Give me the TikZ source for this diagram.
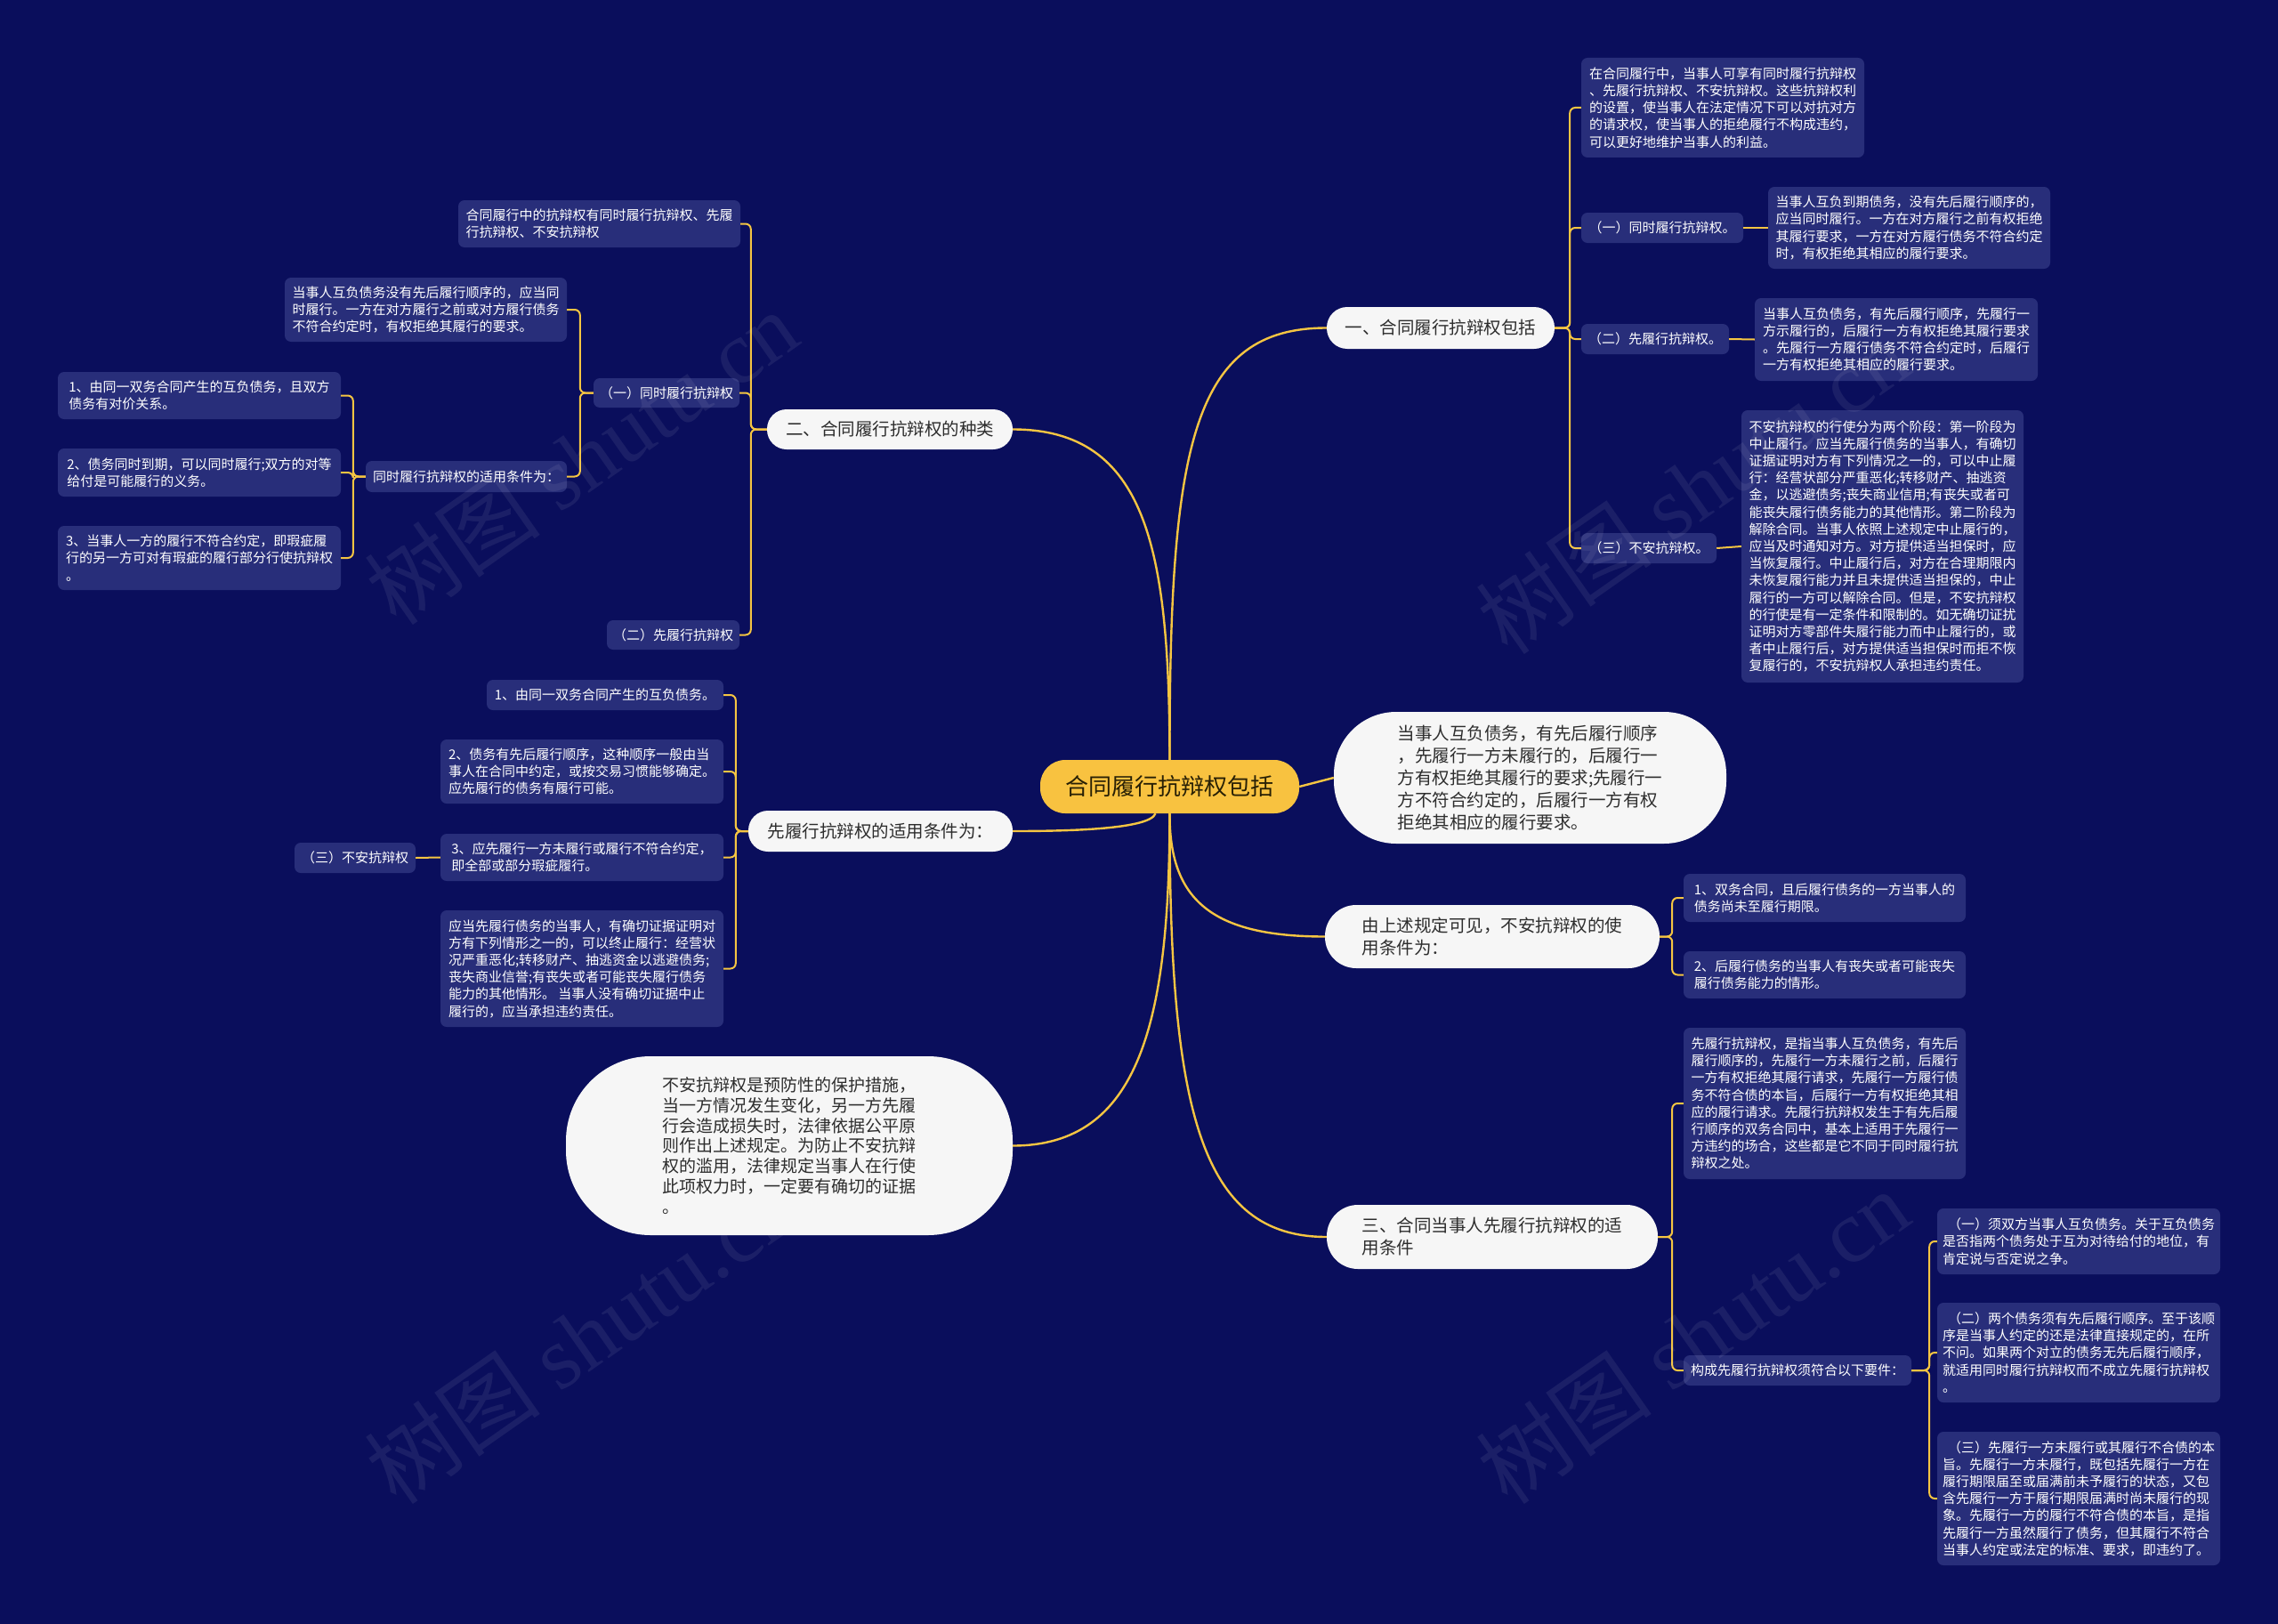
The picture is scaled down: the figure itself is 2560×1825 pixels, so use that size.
\documentclass[tikz,border=0pt]{standalone}
\usepackage{fontspec}
\setmainfont{Noto Sans CJK SC}
\newfontfamily\wmfont{Liberation Serif}
\definecolor{bg}{RGB}{10,14,92}
\definecolor{boxc}{RGB}{40,46,122}
\definecolor{gold}{RGB}{245,197,66}
\definecolor{pill}{RGB}{246,246,246}
\definecolor{pilltext}{RGB}{45,45,45}
\definecolor{ctr}{RGB}{248,194,64}
\definecolor{ctrtext}{RGB}{40,32,5}
\begin{document}
\begin{tikzpicture}[x=1pt,y=-1pt,
  box/.style={fill=boxc, rounded corners=7pt, text=white, font=\fontsize{15}{19.2}\selectfont, align=left, inner sep=0pt},
  lbl/.style={box, align=center},
  pillc/.style={fill=pill, text=pilltext, font=\fontsize{19.5}{25}\selectfont, align=left, inner sep=0pt},
  main/.style={draw=gold, line width=2.4pt},
  sub/.style={draw=gold, line width=2pt, rounded corners=6pt},
  wm/.style={rotate=35, opacity=0.07, text=white, font=\fontsize{100}{110}\selectfont}]
\fill[bg] (0,0) rectangle (2560,1825);
\useasboundingbox (0,0) rectangle (2560,1825);

% ---------- centre and first level ----------
\node[fill=ctr, text=ctrtext, rounded corners=28pt, font=\fontsize{26}{30}\selectfont, minimum width=291, minimum height=60, inner sep=0pt] (C) at (1314.5,884) {合同履行抗辩权包括};

\node[pillc, rounded corners=23pt, minimum width=256, minimum height=47] (R1) at (1619,368.5) {一、合同履行抗辩权包括};
\node[pillc, rounded corners=70pt, minimum width=441, minimum height=148] (RB) at (1719.5,874) {当事人互负债务，有先后履行顺序\\，先履行一方未履行的，后履行一\\方有权拒绝其履行的要求;先履行一\\方不符合约定的，后履行一方有权\\拒绝其相应的履行要求。};
\node[pillc, rounded corners=35pt, minimum width=376, minimum height=71] (R3) at (1677,1052.5) {由上述规定可见，不安抗辩权的使\\用条件为：};
\node[pillc, rounded corners=35pt, minimum width=372, minimum height=72] (R4) at (1677,1390) {三、合同当事人先履行抗辩权的适\\用条件};
\node[pillc, rounded corners=22pt, minimum width=276, minimum height=45] (L1) at (1000,482.5) {二、合同履行抗辩权的种类};
\node[pillc, rounded corners=22pt, minimum width=297, minimum height=46] (L2) at (989.5,934) {先履行抗辩权的适用条件为：};
\node[pillc, rounded corners=95pt, minimum width=502, minimum height=201, font=\fontsize{19}{22.7}\selectfont] (LB) at (887,1287.5) {不安抗辩权是预防性的保护措施，\\当一方情况发生变化，另一方先履\\行会造成损失时，法律依据公平原\\则作出上述规定。为防止不安抗辩\\权的滥用，法律规定当事人在行使\\此项权力时，一定要有确切的证据\\。};

% ---------- right branch 1 ----------
\node[box, minimum width=318, minimum height=112] (T1) at (1936,121) {在合同履行中，当事人可享有同时履行抗辩权\\、先履行抗辩权、不安抗辩权。这些抗辩权利\\的设置，使当事人在法定情况下可以对抗对方\\的请求权，使当事人的拒绝履行不构成违约，\\可以更好地维护当事人的利益。};
\node[lbl, minimum width=182, minimum height=34] (a1) at (1868,256) {（一）同时履行抗辩权。};
\node[box, minimum width=317, minimum height=92] (p1) at (2145.5,256) {当事人互负到期债务，没有先后履行顺序的，\\应当同时履行。一方在对方履行之前有权拒绝\\其履行要求，一方在对方履行债务不符合约定\\时，有权拒绝其相应的履行要求。};
\node[lbl, minimum width=166, minimum height=34] (a2) at (1860,381) {（二）先履行抗辩权。};
\node[box, minimum width=318, minimum height=93] (p2) at (2131,381.5) {当事人互负债务，有先后履行顺序，先履行一\\方示履行的，后履行一方有权拒绝其履行要求\\。先履行一方履行债务不符合约定时，后履行\\一方有权拒绝其相应的履行要求。};
\node[lbl, minimum width=152, minimum height=34] (a3) at (1853,616) {（三）不安抗辩权。};
\node[box, minimum width=317, minimum height=306] (p3) at (2115.5,614) {不安抗辩权的行使分为两个阶段：第一阶段为\\中止履行。应当先履行债务的当事人，有确切\\证据证明对方有下列情况之一的，可以中止履\\行：经营状部分严重恶化;转移财产、抽逃资\\金，以逃避债务;丧失商业信用;有丧失或者可\\能丧失履行债务能力的其他情形。第二阶段为\\解除合同。当事人依照上述规定中止履行的，\\应当及时通知对方。对方提供适当担保时，应\\当恢复履行。中止履行后，对方在合理期限内\\未恢复履行能力并且未提供适当担保的，中止\\履行的一方可以解除合同。但是，不安抗辩权\\的行使是有一定条件和限制的。如无确切证扰\\证明对方零部件失履行能力而中止履行的，或\\者中止履行后，对方提供适当担保时而拒不恢\\复履行的，不安抗辩权人承担违约责任。};

% ---------- left branch 1 ----------
\node[box, minimum width=317, minimum height=53] (A) at (673.5,251.5) {合同履行中的抗辩权有同时履行抗辩权、先履\\行抗辩权、不安抗辩权};
\node[lbl, minimum width=164, minimum height=33] (b1) at (749,441.5) {（一）同时履行抗辩权};
\node[lbl, minimum width=149, minimum height=33] (b2) at (756.5,713.5) {（二）先履行抗辩权};
\node[box, minimum width=317, minimum height=72] (B) at (478.5,348) {当事人互负债务没有先后履行顺序的，应当同\\时履行。一方在对方履行之前或对方履行债务\\不符合约定时，有权拒绝其履行的要求。};
\node[lbl, minimum width=226, minimum height=35] (cond) at (524,535.5) {同时履行抗辩权的适用条件为：};
\node[box, minimum width=318, minimum height=53] (c1) at (224,444.5) {1、由同一双务合同产生的互负债务，且双方\\债务有对价关系。};
\node[box, minimum width=318, minimum height=54] (c2) at (224,531) {2、债务同时到期，可以同时履行;双方的对等\\给付是可能履行的义务。};
\node[box, minimum width=318, minimum height=72] (c3) at (224,627) {3、当事人一方的履行不符合约定，即瑕疵履\\行的另一方可对有瑕疵的履行部分行使抗辩权\\。};

% ---------- left branch 2 ----------
\node[box, minimum width=266, minimum height=34] (d1) at (680,781) {1、由同一双务合同产生的互负债务。};
\node[box, minimum width=318, minimum height=72] (d2) at (654,867) {2、债务有先后履行顺序，这种顺序一般由当\\事人在合同中约定，或按交易习惯能够确定。\\应先履行的债务有履行可能。};
\node[box, minimum width=318, minimum height=53] (d3) at (654,963.5) {3、应先履行一方未履行或履行不符合约定，\\即全部或部分瑕疵履行。};
\node[box, minimum width=318, minimum height=131] (d4) at (654,1088.5) {应当先履行债务的当事人，有确切证据证明对\\方有下列情形之一的，可以终止履行：经营状\\况严重恶化;转移财产、抽逃资金以逃避债务;\\丧失商业信誉;有丧失或者可能丧失履行债务\\能力的其他情形。 当事人没有确切证据中止\\履行的，应当承担违约责任。};
\node[lbl, minimum width=136, minimum height=34] (san) at (399,964) {（三）不安抗辩权};

% ---------- right lower branches ----------
\node[box, minimum width=317, minimum height=54] (e1) at (2050.5,1009) {1、双务合同，且后履行债务的一方当事人的\\债务尚未至履行期限。};
\node[box, minimum width=317, minimum height=53] (e2) at (2050.5,1095.5) {2、后履行债务的当事人有丧失或者可能丧失\\履行债务能力的情形。};
\node[box, minimum width=317, minimum height=170] (f0) at (2050.5,1240) {先履行抗辩权，是指当事人互负债务，有先后\\履行顺序的，先履行一方未履行之前，后履行\\一方有权拒绝其履行请求，先履行一方履行债\\务不符合债的本旨，后履行一方有权拒绝其相\\应的履行请求。先履行抗辩权发生于有先后履\\行顺序的双务合同中，基本上适用于先履行一\\方违约的场合，这些都是它不同于同时履行抗\\辩权之处。};
\node[lbl, minimum width=256, minimum height=34] (g) at (2020,1540) {构成先履行抗辩权须符合以下要件：};
\node[box, minimum width=318, minimum height=74] (g1) at (2336,1395) {\hspace*{6pt}（一）须双方当事人互负债务。关于互负债务\\是否指两个债务处于互为对待给付的地位，有\\肯定说与否定说之争。};
\node[box, minimum width=318, minimum height=112] (g2) at (2336,1520) {\hspace*{6pt}（二）两个债务须有先后履行顺序。至于该顺\\序是当事人约定的还是法律直接规定的，在所\\不问。如果两个对立的债务无先后履行顺序，\\就适用同时履行抗辩权而不成立先履行抗辩权\\。};
\node[box, minimum width=318, minimum height=150] (g3) at (2336,1684) {\hspace*{6pt}（三）先履行一方未履行或其履行不合债的本\\旨。先履行一方未履行，既包括先履行一方在\\履行期限届至或届满前未予履行的状态，又包\\含先履行一方于履行期限届满时尚未履行的现\\象。先履行一方的履行不符合债的本旨，是指\\先履行一方虽然履行了债务，但其履行不符合\\当事人约定或法定的标准、要求，即违约了。};

% ---------- main connectors ----------
\draw[main] (C.north) .. controls (1314,500) and (1340,368.5) .. (R1.west);
\draw[main] (C.north) .. controls (1314,620) and (1290,482.5) .. (L1.east);
\draw[main] (C.east) -- (RB.west);
\draw[main] (C.south) .. controls (1314,1010) and (1360,1052.5) .. (R3.west);
\draw[main] (C.south) .. controls (1314,1250) and (1350,1390) .. (R4.west);
\draw[main] (C.south) .. controls (1314,1150) and (1280,1287.5) .. (LB.east);
\draw[main] ([xshift=-16pt]C.south) .. controls (1292,932) and (1200,934) .. (L2.east);

% ---------- sub connectors ----------
\foreach \c in {T1,a1,a2,a3} \draw[sub] (R1.east) -- ++(17,0) |- (\c.west);
\draw[sub] (a1.east) -- (p1.west);
\draw[sub] (a2.east) -- (p2.west);
\draw[sub] (a3.east) -- (p3.west);

\foreach \c in {A,b1,b2} \draw[sub] (L1.west) -- ++(-18,0) |- (\c.east);
\foreach \c in {B,cond} \draw[sub] (b1.west) -- ++(-15,0) |- (\c.east);
\foreach \c in {c1,c2,c3} \draw[sub] (cond.west) -- ++(-14,0) |- (\c.east);

\foreach \c in {d1,d2,d3,d4} \draw[sub] (L2.west) -- ++(-14,0) |- (\c.east);
\draw[sub] (d3.west) -- (san.east);

\foreach \c in {e1,e2} \draw[sub] (R3.east) -- ++(14,0) |- (\c.west);
\foreach \c in {f0,g} \draw[sub] (R4.east) -- ++(16,0) |- (\c.west);
\foreach \c in {g1,g2,g3} \draw[sub] (g.east) -- ++(20,0) |- (\c.west);

% ---------- watermark ----------
\node[wm] (wm1) at (653,514) {树图 {\wmfont shutu.cn}};
\node[wm] (wm2) at (1902,547) {树图 {\wmfont shutu.cn}};
\node[wm] (wm3) at (653,1502) {树图 {\wmfont shutu.cn}};
\node[wm] (wm4) at (1902,1502) {树图 {\wmfont shutu.cn}};
\end{tikzpicture}
\end{document}
